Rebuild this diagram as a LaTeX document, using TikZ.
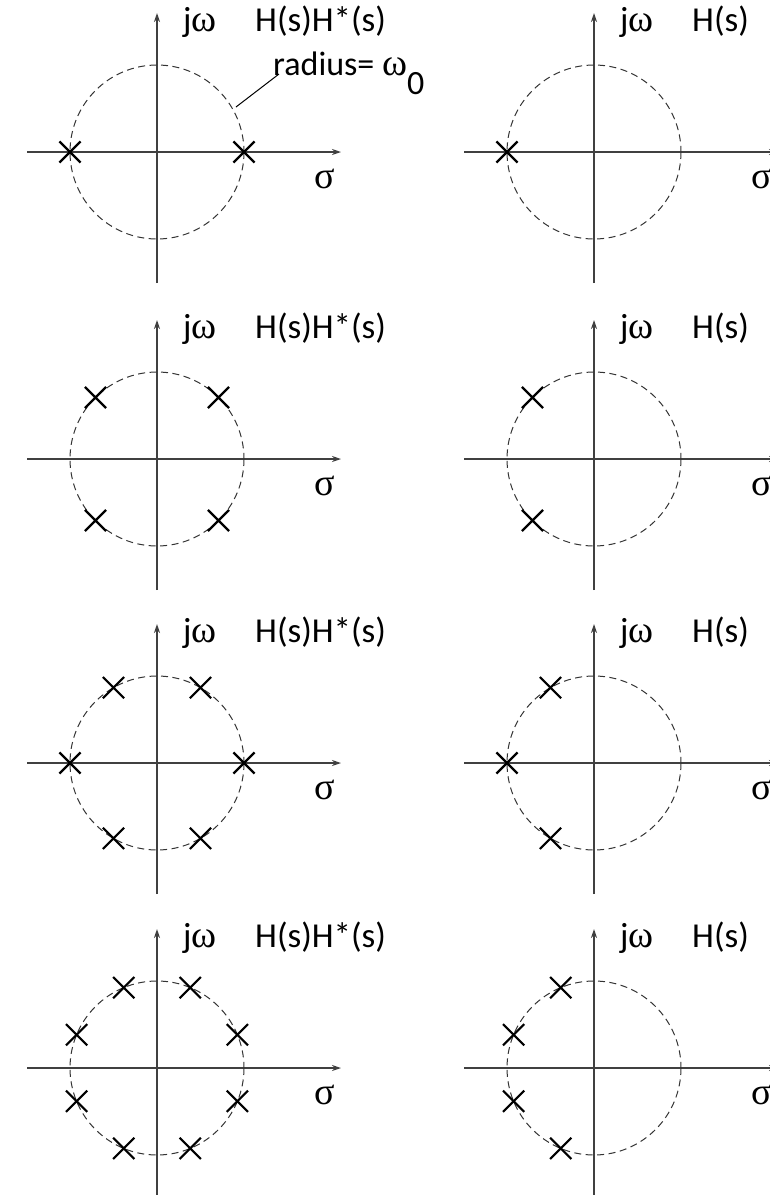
\documentclass[tikz,border=0pt]{standalone}
\usepackage{fontspec}
\setmainfont{Carlito}
\newfontfamily\grk{Liberation Serif}
\usetikzlibrary{arrows.meta,shapes.misc}
\tikzset{
  axis/.style={draw=black!75, line width=1.3pt, -{Stealth[length=9pt,width=6pt]}},
  circ/.style={draw=black!80, line width=1pt, dash pattern=on 7pt off 4.5pt},
  polex/.style={cross out, draw=black, line width=2.2pt, minimum size=19pt, inner sep=0pt},
  ttl/.style={inner sep=0pt, font=\fontsize{35}{40}\selectfont},
  jw/.style={inner sep=0pt, font=\fontsize{35}{40}\selectfont},
  sig/.style={inner sep=0pt, font=\fontsize{38}{40}\selectfont\grk},
  rad/.style={inner sep=0pt, font=\fontsize{34}{38}\selectfont},
  leader/.style={draw=black, line width=1pt}
}
\newcommand{\plane}[4]{%
  \coordinate (#4o) at (#1,#2);
  \coordinate (#4l) at (#1-130,#2);
  \coordinate (#4r) at (#1+184,#2);
  \coordinate (#4b) at (#1,#2+131);
  \coordinate (#4t) at (#1,#2-139);
  \draw[axis] (#4l) -- (#4r);
  \draw[axis] (#4b) -- (#4t);
  \draw[circ] (#4o) circle[radius=87];
  \node[jw, anchor=base west] (#4jw) at (#1+26,#2-121) {j{\grk\fontsize{38}{40}\selectfont ω}};
  \node[ttl, anchor=base west] (#4h) at (#1+98,#2-121) {#3};
  \node[sig, anchor=base] (#4s) at (#1+168,#2+36) {σ};
}
\newcommand{\poles}[4]{% origin x, origin y, list of angles, prefix
  \foreach \a [count=\i] in {#3} {
    \node[polex] (#4p\i) at ({#1+87*cos(\a)},{#2+87*sin(\a)}) {};
  }
}
\begin{document}
\begin{tikzpicture}[x=1pt,y=-1pt]
\useasboundingbox (0,0) rectangle (770,1195);
\clip (0,0) rectangle (770,1195);
% row 1
\plane{157}{152}{H(s)H*(s)}{a}
\plane{594}{152}{H(s)}{b}
\poles{157}{152}{0,180}{a}
\poles{594}{152}{180}{b}
\node[rad, anchor=base west] (radlbl) at (273,75) {radius= {\grk\fontsize{38}{40}\selectfont ω}\raisebox{-19pt}{0}};
\coordinate (leadA) at (236,107);
\coordinate (leadB) at (279,74);
\draw[leader] (leadA) -- (leadB);
% row 2
\plane{157}{459}{H(s)H*(s)}{c}
\plane{594}{459}{H(s)}{d}
\poles{157}{459}{45,135,225,315}{c}
\poles{594}{459}{135,225}{d}
% row 3
\plane{157}{763}{H(s)H*(s)}{e}
\plane{594}{763}{H(s)}{f}
\poles{157}{763}{0,60,120,180,240,300}{e}
\poles{594}{763}{120,180,240}{f}
% row 4
\plane{157}{1068}{H(s)H*(s)}{g}
\plane{594}{1068}{H(s)}{h}
\poles{157}{1068}{22.5,67.5,112.5,157.5,202.5,247.5,292.5,337.5}{g}
\poles{594}{1068}{112.5,157.5,202.5,247.5}{h}
\end{tikzpicture}
\end{document}
